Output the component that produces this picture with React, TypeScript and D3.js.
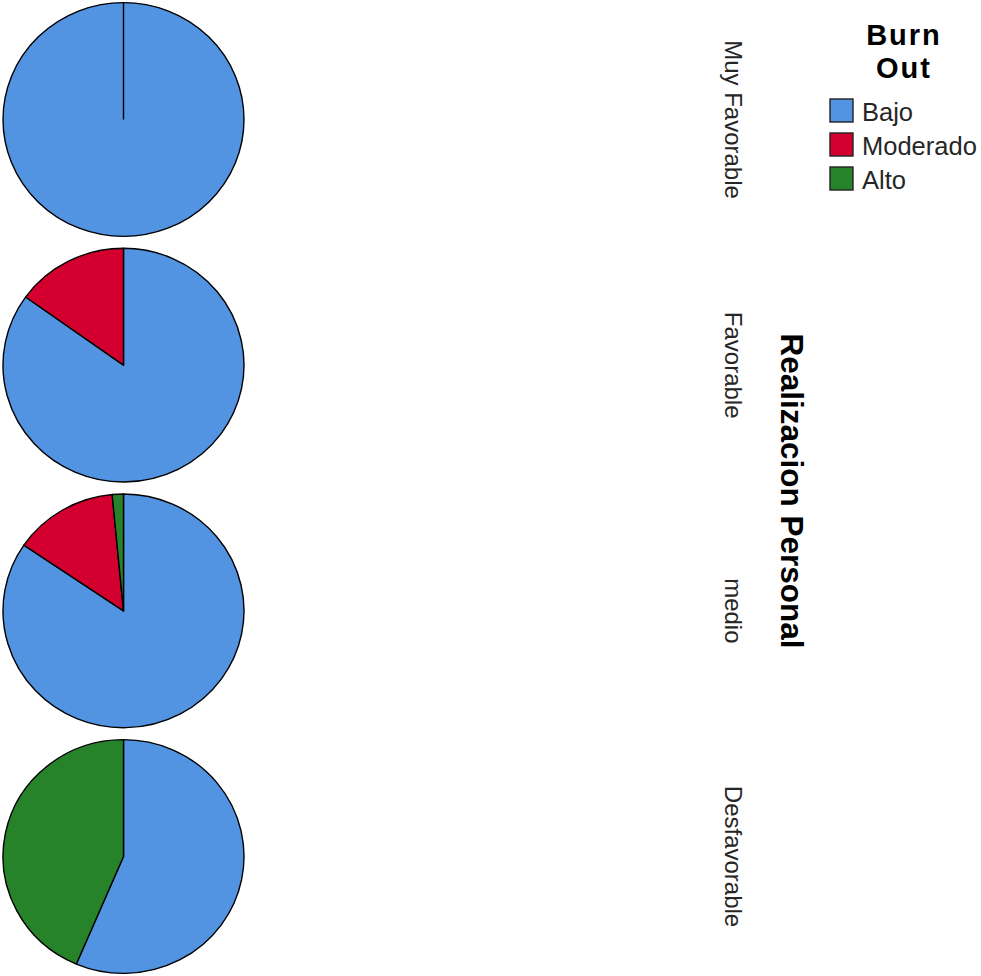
import * as d3 from "d3";
import { useEffect } from "react";

// Burn Out share by Realizacion Personal group (percent)
const groups = ["Muy Favorable", "Favorable", "medio", "Desfavorable"];
const levels = ["Bajo", "Moderado", "Alto"];
const bajo = [100, 84.9, 84.5, 56.4];
const moderado = [0, 15.1, 14.0, 0];
const alto = [0, 0, 1.5, 43.6];
const colors = ["#5294e2", "#d3002f", "#27832a"];

const App = () => {
  useEffect(() => {
    document.body.style.margin = "0";
  }, []);

  const width = 981;
  const height = 976;
  const cx = 123.5;
  const r = 120.5;
  const squash = 0.97;

  const yscale = d3.scalePoint<string>().domain(groups).range([119.5, 856.5]);
  const color = d3.scaleOrdinal<string, string>().domain(levels).range(colors);

  const pie = d3
    .pie<{ level: string; value: number }>()
    .value((d) => d.value)
    .sort(null);
  const arc = d3
    .arc<d3.PieArcDatum<{ level: string; value: number }>>()
    .innerRadius(0)
    .outerRadius(r);

  const font = "'Liberation Sans', Arial, sans-serif";

  return (
    <svg width={width} height={height} style={{ display: "block", background: "#fff" }}>
      {groups.map((g, i) => {
        const values = [bajo[i], moderado[i], alto[i]].map((v, j) => ({
          level: levels[j],
          value: v,
        }));
        const arcs = pie(values);
        const cy = yscale(g) ?? 0;
        const filled = arcs.filter((a) => a.data.value > 0);
        return (
          <g key={g}>
            <g transform={`translate(${cx},${cy}) scale(1,${squash})`}>
              {filled.map((a) => (
                <path
                  key={a.data.level}
                  d={arc(a) ?? ""}
                  fill={color(a.data.level)}
                  stroke="#000"
                  strokeWidth={1.4}
                  strokeLinejoin="round"
                />
              ))}
              {/* a single full slice still shows its seam at 12 o'clock */}
              {filled.length === 1 && (
                <line
                  x1={0}
                  y1={0}
                  x2={r * Math.sin(filled[0].startAngle)}
                  y2={-r * Math.cos(filled[0].startAngle)}
                  stroke="#000"
                  strokeWidth={1.4}
                />
              )}
            </g>
            <text
              transform={`translate(733,${cy}) rotate(90)`}
              textAnchor="middle"
              dominantBaseline="central"
              fontFamily={font}
              fontSize={24}
              fill="#262626"
            >
              {g}
            </text>
          </g>
        );
      })}

      <text
        transform="translate(792,491) rotate(90)"
        textAnchor="middle"
        dominantBaseline="central"
        fontFamily={font}
        fontSize={31.5}
        fontWeight="bold"
        fill="#000"
      >
        Realizacion Personal
      </text>

      <g fontFamily={font}>
        <text x={904} y={45} textAnchor="middle" fontSize={29} fontWeight="bold" letterSpacing={2}>
          Burn
        </text>
        <text x={904} y={78} textAnchor="middle" fontSize={29} fontWeight="bold" letterSpacing={2}>
          Out
        </text>
        {levels.map((l, i) => (
          <g key={l} transform={`translate(830,${99 + i * 34})`}>
            <rect width={23} height={23} fill={color(l)} stroke="#222" strokeWidth={1.4} />
            <text x={32} y={13} dominantBaseline="central" fontSize={25.5} fill="#262626">
              {l}
            </text>
          </g>
        ))}
      </g>
    </svg>
  );
};

export default App;
